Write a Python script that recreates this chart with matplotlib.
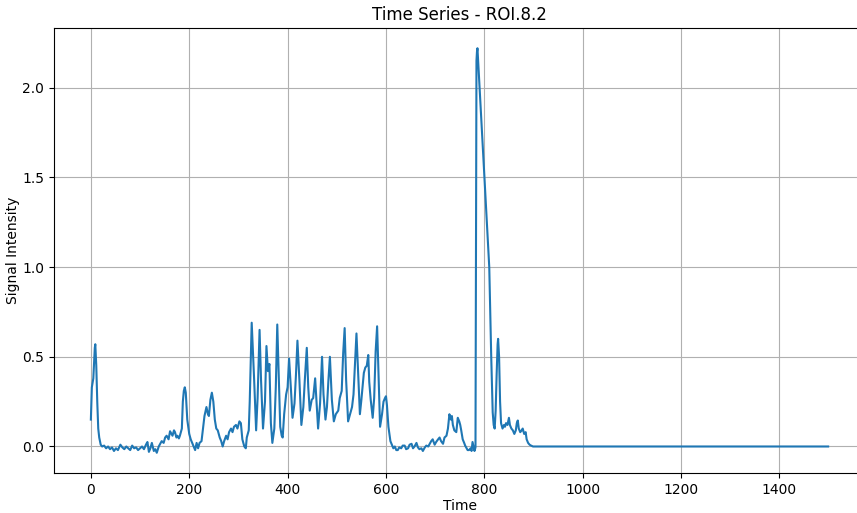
import matplotlib
matplotlib.use("Agg")
import matplotlib.pyplot as plt
import numpy as np

# time points (frames) and signal values
time = [0, 2, 5, 8, 9, 11, 13, 15, 17, 20, 23, 27, 31, 35, 39, 43, 47, 51, 55, 60,
        64, 68, 72, 76, 80, 84, 88, 92, 96, 100, 104, 108, 112, 115, 118, 121, 124, 128, 131, 134,
        138, 141, 144, 148, 151, 154, 158, 161, 164, 166, 169, 171, 174, 176, 179, 181, 185, 187, 189, 191,
        193, 196, 200, 203, 206, 209, 212, 215, 218, 221, 225, 228, 231, 235, 238, 240, 243, 246, 249, 252,
        255, 258, 262, 265, 268, 271, 275, 278, 281, 285, 288, 291, 295, 298, 302, 305, 308, 312, 315, 317,
        321, 323, 327, 330, 332, 336, 339, 343, 346, 350, 354, 357, 360, 363, 366, 369, 373, 376, 379, 382,
        385, 388, 390, 393, 397, 400, 403, 405, 407, 410, 414, 417, 420, 424, 428, 432, 435, 439, 442, 445,
        449, 452, 456, 459, 462, 466, 470, 473, 477, 480, 483, 486, 490, 494, 498, 503, 506, 510, 513, 516,
        519, 523, 527, 531, 534, 538, 540, 544, 547, 550, 555, 558, 561, 564, 566, 569, 573, 576, 579, 582,
        585, 588, 592, 595, 598, 600, 602, 605, 609, 612, 615, 618, 621, 624, 627, 631, 634, 638, 641, 645,
        648, 652, 655, 658, 662, 665, 668, 672, 675, 679, 682, 686, 689, 692, 695, 699, 702, 706, 709, 712,
        716, 719, 723, 726, 729, 732, 734, 736, 739, 743, 746, 749, 751, 753, 756, 759, 761, 764, 766, 769,
        772, 774, 776, 778, 780, 782, 783, 784, 785, 786, 788, 790, 795, 800, 805, 810, 812, 814, 816, 817,
        819, 821, 823, 825, 827, 828, 830, 832, 834, 837, 840, 842, 844, 847, 850, 852, 855, 858, 861, 864,
        866, 868, 870, 873, 876, 878, 881, 884, 886, 889, 892, 895, 899, 1000, 1100, 1200, 1300, 1400, 1499]

signal = [0.15, 0.33, 0.38, 0.55, 0.57, 0.45, 0.25, 0.10, 0.05, 0.01, 0.0, 0.005, -0.01, 0.0, -0.015, -0.005, -0.025, -0.01, -0.02, 0.01,
          -0.005, -0.015, 0.0, -0.01, -0.02, 0.005, -0.01, -0.005, -0.02, -0.01, 0.0, -0.015, 0.01, 0.025, -0.03, -0.01, 0.02, -0.025, -0.015, -0.035,
          0.0, 0.015, 0.03, 0.02, 0.05, 0.06, 0.04, 0.085, 0.07, 0.06, 0.09, 0.08, 0.05, 0.06, 0.045, 0.06, 0.10, 0.25, 0.31, 0.33,
          0.30, 0.15, 0.07, 0.04, 0.02, 0.0, -0.02, 0.02, -0.01, 0.02, 0.03, 0.10, 0.17, 0.22, 0.18, 0.17, 0.26, 0.30, 0.25, 0.15,
          0.10, 0.09, 0.05, 0.03, 0.0, 0.03, 0.06, 0.04, 0.08, 0.10, 0.08, 0.11, 0.12, 0.10, 0.14, 0.13, 0.04, 0.0, -0.01, 0.05,
          0.09, 0.25, 0.69, 0.50, 0.37, 0.09, 0.27, 0.65, 0.37, 0.10, 0.25, 0.56, 0.42, 0.46, 0.13, 0.02, 0.10, 0.33, 0.68, 0.40,
          0.11, 0.06, 0.05, 0.18, 0.29, 0.33, 0.49, 0.40, 0.31, 0.16, 0.24, 0.40, 0.59, 0.37, 0.12, 0.22, 0.37, 0.55, 0.33, 0.20,
          0.26, 0.27, 0.38, 0.24, 0.10, 0.24, 0.50, 0.29, 0.15, 0.22, 0.37, 0.50, 0.26, 0.14, 0.18, 0.20, 0.27, 0.31, 0.52, 0.66,
          0.37, 0.14, 0.18, 0.22, 0.29, 0.52, 0.63, 0.37, 0.18, 0.26, 0.41, 0.44, 0.45, 0.51, 0.36, 0.26, 0.16, 0.27, 0.53, 0.67,
          0.40, 0.11, 0.18, 0.25, 0.27, 0.28, 0.23, 0.11, 0.03, 0.01, -0.01, 0.0, -0.02, -0.02, -0.005, -0.01, 0.005, 0.005, -0.015, -0.01,
          0.01, 0.015, -0.01, 0.0, 0.02, -0.005, -0.015, -0.01, -0.025, -0.005, 0.005, 0.0, 0.015, 0.03, 0.04, 0.01, 0.025, 0.04, 0.05, 0.03,
          0.015, 0.05, 0.06, 0.10, 0.18, 0.15, 0.17, 0.12, 0.09, 0.08, 0.16, 0.14, 0.12, 0.09, 0.04, 0.02, 0.005, -0.01, -0.02, -0.02,
          -0.01, -0.025, 0.025, 0.0, -0.025, -0.005, 1.2, 2.15, 2.2, 2.22, 2.12, 2.03, 1.78, 1.51, 1.25, 1.0, 0.75, 0.5, 0.3, 0.19,
          0.12, 0.10, 0.20, 0.40, 0.57, 0.60, 0.50, 0.25, 0.13, 0.10, 0.12, 0.11, 0.13, 0.12, 0.16, 0.12, 0.10, 0.09, 0.07, 0.09,
          0.13, 0.145, 0.10, 0.08, 0.09, 0.10, 0.07, 0.08, 0.04, 0.02, 0.01, 0.005, 0.0, 0.0, 0.0, 0.0, 0.0, 0.0, 0.0]

fig = plt.figure(figsize=(8.57, 5.13), dpi=100)
# axes run a little past the right edge, as in the reference
ax = fig.add_axes([54 / 857, 40 / 513, 811 / 857, 445 / 513])
ax.plot(time, signal, color='#1f77b4', linewidth=1.5)
ax.set_title('Time Series - ROI.8.2')
ax.set_xlabel('Time', labelpad=1.5)
ax.set_ylabel('Signal Intensity', labelpad=1.5)
ax.grid(True)

fig.savefig('out.png', dpi=100)
